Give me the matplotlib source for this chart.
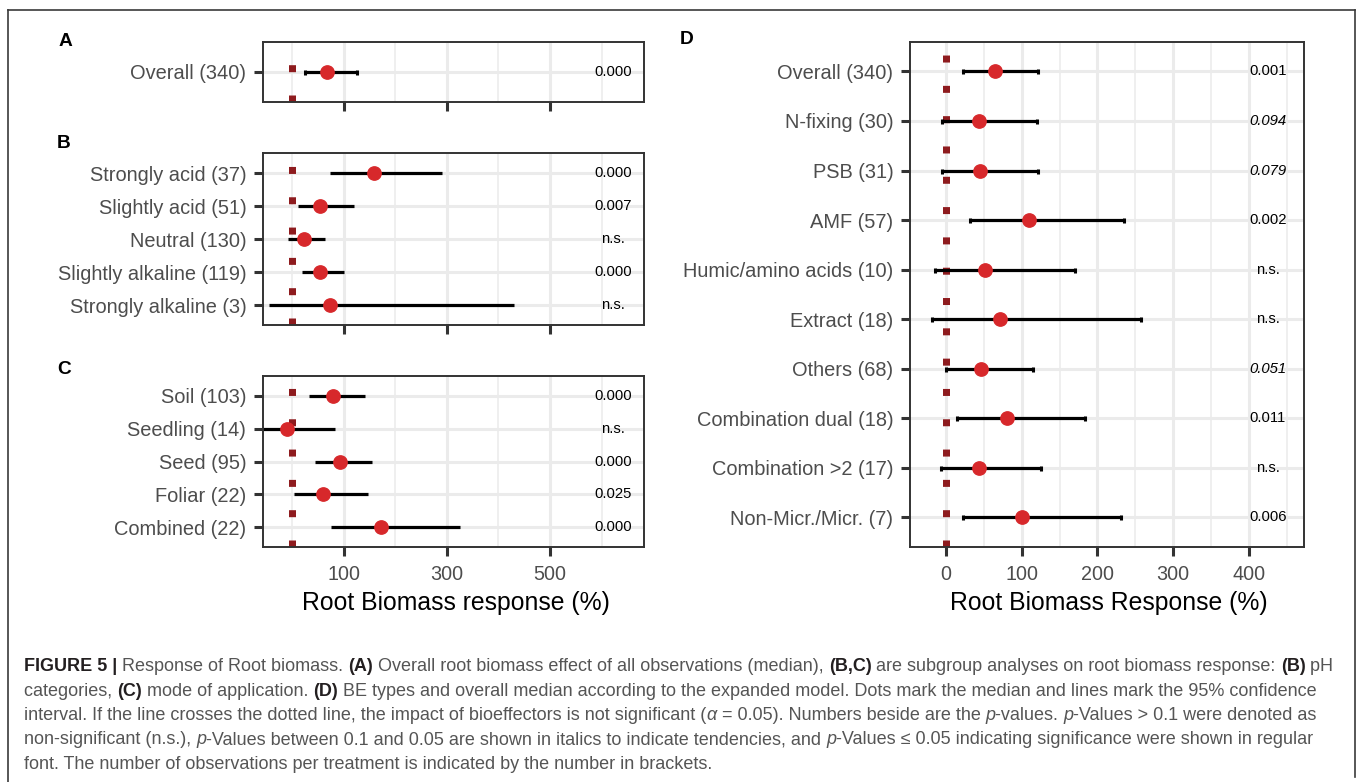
import matplotlib
matplotlib.use('Agg')
import matplotlib.pyplot as plt
from matplotlib.lines import Line2D
from matplotlib.font_manager import FontProperties

plt.rcParams['font.family'] = ['Liberation Sans', 'DejaVu Sans']

# ---------------- data ----------------
a_labels = ['Overall (340)']
a_median = [67]
a_low = [25]
a_high = [127]
a_p = ['0.000']

b_labels = ['Strongly acid (37)', 'Slightly acid (51)', 'Neutral (130)',
            'Slightly alkaline (119)', 'Strongly alkaline (3)']
b_median = [159, 55, 24, 54, 73]
b_low = [73, 11, -8, 20, -44]
b_high = [291, 120, 65, 100, 430]
b_p = ['0.000', '0.007', 'n.s.', '0.000', 'n.s.']

c_labels = ['Soil (103)', 'Seedling (14)', 'Seed (95)', 'Foliar (22)', 'Combined (22)']
c_median = [80, -10, 93, 60, 173]
c_low = [34, -62, 44, 5, 75]
c_high = [141, 84, 155, 147, 325]
c_p = ['0.000', 'n.s.', '0.000', '0.025', '0.000']

d_labels = ['Overall (340)', 'N-fixing (30)', 'PSB (31)', 'AMF (57)',
            'Humic/amino acids (10)', 'Extract (18)', 'Others (68)',
            'Combination dual (18)', 'Combination >2 (17)', 'Non-Micr./Micr. (7)']
d_median = [65, 43, 45, 110, 52, 71, 46, 80, 44, 100]
d_low = [22, -6, -5, 31, -14, -19, 0, 14, -7, 22]
d_high = [121, 120, 122, 235, 171, 258, 115, 183, 126, 231]
d_p = ['0.001', '0.094', '0.079', '0.002', 'n.s.', 'n.s.', '0.051', '0.011', 'n.s.', '0.006']
d_p_italic = [False, True, True, False, False, False, True, False, False, False]

abc_major = [100, 300, 500]
abc_minor = [0, 200, 400, 600]
d_major = [0, 100, 200, 300, 400]
d_minor = [50, 150, 250, 350, 450]

# ---------------- styling ----------------
W, H = 1360, 782
RED = '#D7282B'
DARKRED = '#8E1B1E'
GRID = '#EBEBEB'

fig = plt.figure(figsize=(W / 100, H / 100), dpi=100)
fig.patch.set_facecolor('white')


def fy(y):
    return 1 - y / H


def add_ax(l, r, t, b):
    return fig.add_axes([l / W, fy(b), (r - l) / W, (b - t) / H])


def panel(ax, labels, med, low, high, pvals, xlim, major, minor, ptx,
          caps, show_xlabels, italic=None):
    n = len(labels)
    ys = list(range(1, n + 1))
    ax.set_xlim(*xlim)
    ax.set_ylim(n + 0.6, 0.4)
    ax.set_yticks(ys)
    ax.set_yticklabels(labels)
    ax.set_xticks(major)
    ax.set_xticklabels([str(v) for v in major])
    ax.set_xticks(minor, minor=True)
    ax.set_axisbelow(True)
    ax.grid(True, which='major', color=GRID, lw=2.2, zorder=0)
    ax.grid(True, which='minor', axis='x', color=GRID, lw=1.1, zorder=0)
    ax.tick_params(axis='both', which='major', length=6.5, width=2.2,
                   color='#333333', labelcolor='#4D4D4D')
    ax.tick_params(axis='y', labelsize=14.4, pad=5.5)
    ax.tick_params(axis='x', labelsize=14.2, pad=6.5)
    ax.tick_params(which='minor', length=0)
    if not show_xlabels:
        ax.tick_params(axis='x', labelbottom=False)
    for s in ax.spines.values():
        s.set_color('#333333')
        s.set_linewidth(1.4)
    # zero reference (dotted)
    ax.axvline(0, color=DARKRED, lw=5.04, linestyle=(0, (1, 3.33)),
               dash_capstyle='butt', zorder=1.5)
    xerr = [[m - lo for m, lo in zip(med, low)], [hi - m for m, hi in zip(med, high)]]
    if caps:
        ax.errorbar(med, ys, xerr=xerr, fmt='none', ecolor='black', elinewidth=2.3,
                    capsize=1.8, capthick=2.2, zorder=2)
    else:
        ax.errorbar(med, ys, xerr=xerr, fmt='none', ecolor='black', elinewidth=2.3,
                    capsize=0, zorder=2)
    ax.plot(med, ys, 'o', ms=9.6, color=RED, mec=RED, zorder=3)
    for i, (y, p) in enumerate(zip(ys, pvals)):
        st = 'italic' if (italic is not None and italic[i]) else 'normal'
        ax.text(ptx, y, p, ha='center', va='center', fontsize=10.7, style=st,
                color='black', zorder=4)


abc_xlim = (-56, 681)
axA = add_ax(263, 643.5, 41.7, 101.7)
panel(axA, a_labels, a_median, a_low, a_high, a_p, abc_xlim, abc_major, abc_minor,
      622, True, False)
axB = add_ax(263, 643.5, 153.3, 325)
panel(axB, b_labels, b_median, b_low, b_high, b_p, abc_xlim, abc_major, abc_minor,
      622, False, False)
axC = add_ax(263, 643.5, 376, 547)
panel(axC, c_labels, c_median, c_low, c_high, c_p, abc_xlim, abc_major, abc_minor,
      622, False, True)
axD = add_ax(910, 1304, 41.7, 547)
panel(axD, d_labels, d_median, d_low, d_high, d_p, (-47.7, 473), d_major, d_minor,
      425, True, True, italic=d_p_italic)

fig.text(456 / W, fy(603), 'Root Biomass response (%)', ha='center', va='center',
         fontsize=17.8, color='black')
fig.text(1109 / W, fy(603), 'Root Biomass Response (%)', ha='center', va='center',
         fontsize=17.8, color='black')

for lab, x, y in [('A', 65, 41), ('B', 64, 143), ('C', 64, 369), ('D', 686.5, 40)]:
    fig.text(x / W, fy(y), lab, ha='center', va='center', fontsize=13.8,
             fontweight='bold', color='black')

# frame
for (x0, y0, x1, y1) in [(7.5, 10, 1355, 10), (7.5, 10, 7.5, 782), (1355, 10, 1355, 777)]:
    fig.add_artist(Line2D([x0 / W, x1 / W], [fy(y0), fy(y1)], transform=fig.transFigure,
                          color='#3A3A3A', lw=1.2))

# ---------------- caption ----------------
N, B, I = 'n', 'b', 'i'
cap_lines = [
    [("FIGURE 5 |", B), (" Response of Root biomass. ", N), ("(A)", B),
     (" Overall root biomass effect of all observations (median), ", N), ("(B,C)", B),
     (" are subgroup analyses on root biomass response: ", N), ("(B)", B), (" pH", N)],
    [("categories, ", N), ("(C)", B), (" mode of application. ", N), ("(D)", B),
     (" BE types and overall median according to the expanded model. Dots mark the median and lines mark the 95% confidence", N)],
    [("interval. If the line crosses the dotted line, the impact of bioeffectors is not significant (", N),
     ("α", I), (" = 0.05). Numbers beside are the ", N), ("p", I), ("-values. ", N), ("p", I),
     ("-Values > 0.1 were denoted as", N)],
    [("non-significant (n.s.), ", N), ("p", I),
     ("-Values between 0.1 and 0.05 are shown in italics to indicate tendencies, and ", N),
     ("p", I), ("-Values ≤ 0.05 indicating significance were shown in regular", N)],
    [("font. The number of observations per treatment is indicated by the number in brackets.", N)],
]

renderer = fig.canvas.get_renderer()
fam = ['Liberation Sans', 'DejaVu Sans']


def fprop(kind, size):
    if kind == B:
        return FontProperties(family=fam, size=size, weight='bold')
    if kind == I:
        return FontProperties(family=fam, size=size, style='italic')
    return FontProperties(family=fam, size=size)


def seg_w(s, fp):
    w1 = renderer.get_text_width_height_descent('|' + s + '|', fp, ismath=False)[0]
    w0 = renderer.get_text_width_height_descent('||', fp, ismath=False)[0]
    return w1 - w0


base = 12.0
w_line1 = sum(seg_w(s, fprop(k, base)) for s, k in cap_lines[0])
cap_size = base * (1311.0 / w_line1)

x_start = 24
for li, segs in enumerate(cap_lines):
    y_center = 665 + 24.3 * li
    y_base = y_center + 0.358 * cap_size * 100 / 72
    x = x_start
    for s, k in segs:
        fp = fprop(k, cap_size)
        col = '#231F20' if k == B else '#555555'
        fig.text(x / W, fy(y_base), s, fontproperties=fp, color=col,
                 ha='left', va='baseline')
        x += seg_w(s, fp)

fig.savefig('out.png', dpi=100)
